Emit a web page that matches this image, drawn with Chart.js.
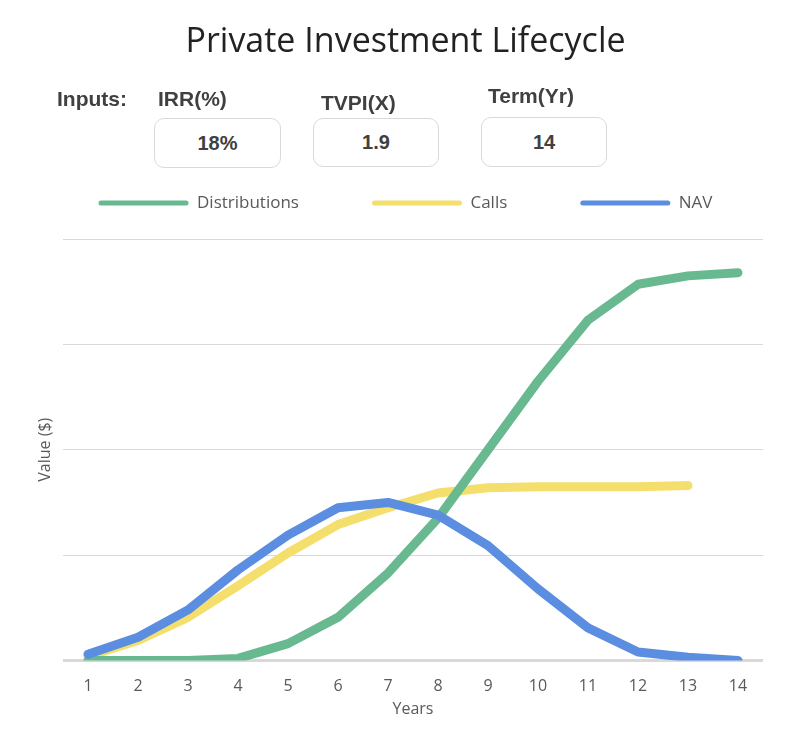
<!DOCTYPE html>
<html>
<head>
<meta charset="utf-8">
<title>Private Investment Lifecycle</title>
<script src="https://cdn.jsdelivr.net/npm/chart.js@4.4.1/dist/chart.umd.min.js"></script>
<style>
  html, body { margin: 0; padding: 0; background: #fff; }
  #wrap { position: relative; width: 811px; height: 740px; }
  #lifecycle { position: absolute; left: 0; top: 0; }
  .lbl {
    position: absolute; height: 24px; line-height: 24px; white-space: nowrap;
    font-family: 'Liberation Sans', Arial, sans-serif; font-weight: bold;
    font-size: 21px; color: #404040;
  }
  .box {
    position: absolute; box-sizing: border-box; border: 1px solid #d9d9d9;
    border-radius: 10px; background: #fff; display: flex;
    align-items: center; justify-content: center;
    font-family: 'Liberation Sans', Arial, sans-serif; font-weight: bold;
    font-size: 20px; color: #404040;
  }
</style>
</head>
<body>
<div id="wrap">
  <canvas id="lifecycle" width="811" height="740"></canvas>
  <div class="lbl" style="left:57px; top:87px;">Inputs:</div>
  <div class="lbl" style="left:158px; top:87px;">IRR(%)</div>
  <div class="lbl" style="left:321px; top:91px;">TVPI(X)</div>
  <div class="lbl" style="left:488px; top:84px;">Term(Yr)</div>
  <div class="box" style="left:154px; top:118px; width:127px; height:50px;">18%</div>
  <div class="box" style="left:313px; top:118px; width:126px; height:49px;">1.9</div>
  <div class="box" style="left:481px; top:117px; width:126px; height:50px;">14</div>
</div>
<script>
  // values (y unit = one gridline)
  const years = ['1', '2', '3', '4', '5', '6', '7', '8', '9', '10', '11', '12', '13', '14'];
  const distributions = [0, 0, 0, 0.02, 0.16, 0.41, 0.83, 1.35, 2.0, 2.65, 3.23, 3.57, 3.65, 3.68];
  const calls = [0.04, 0.19, 0.41, 0.71, 1.02, 1.29, 1.45, 1.59, 1.64, 1.65, 1.65, 1.65, 1.66, null];
  const nav = [0.06, 0.22, 0.48, 0.86, 1.19, 1.45, 1.50, 1.38, 1.09, 0.68, 0.31, 0.08, 0.03, 0.0];

  const GREEN = '#68b990';
  const YELLOW = '#f4df6c';
  const BLUE = '#5b8de0';

  Chart.defaults.font.family = "'Open Sans', sans-serif";

  // keep the legend on one row, fixed height, same centre
  const legendRow = {
    id: 'legendRow',
    beforeInit(chart) {
      const origFit = chart.legend.fit;
      chart.legend.fit = function () {
        const mw = this.maxWidth;
        this.maxWidth = 2000;
        origFit.call(this);
        this.maxWidth = mw;
        this.width = mw;
        this.height = 117.5;
      };
    },
    afterLayout(chart) {
      // widen both sides equally so nothing wraps
      chart.legend.left -= 300;
      chart.legend.right += 300;
    }
  };

  function series(label, data, color, order) {
    return {
      label,
      data,
      borderColor: color,
      backgroundColor: color,
      borderWidth: 9,
      borderCapStyle: 'round',
      borderJoinStyle: 'round',
      pointRadius: 0,
      pointHoverRadius: 0,
      tension: 0,
      order
    };
  }

  new Chart(document.getElementById('lifecycle'), {
    type: 'line',
    data: {
      labels: years,
      datasets: [
        series('Distributions', distributions, GREEN, 1),
        series('Calls', calls, YELLOW, 2),
        series('NAV', nav, BLUE, 0)
      ]
    },
    options: {
      responsive: false,
      animation: false,
      layout: { padding: { left: 48, right: 48, top: 0, bottom: 17.4 } },
      plugins: {
        title: {
          display: true,
          text: 'Private Investment Lifecycle',
          color: '#222222',
          font: { size: 34, weight: 'normal' },
          padding: { top: 21.6, bottom: 59.1 }
        },
        legend: {
          display: true,
          labels: {
            boxWidth: 90,
            boxHeight: 5,
            useBorderRadius: true,
            borderRadius: 2.5,
            padding: 73,
            color: '#595959',
            font: { size: 17 },
            sort: (a, b) => a.datasetIndex - b.datasetIndex,
            generateLabels(chart) {
              const items = Chart.defaults.plugins.legend.labels.generateLabels(chart);
              items.forEach(it => { it.lineWidth = 0; });
              return items;
            }
          }
        },
        tooltip: { enabled: false }
      },
      scales: {
        x: {
          offset: true,
          grid: { display: false, drawTicks: false },
          border: { display: false },
          ticks: { color: '#595959', font: { size: 16 }, padding: 16, autoSkip: false, maxRotation: 0 },
          title: { display: true, text: 'Years', color: '#595959', font: { size: 16 }, padding: { top: -12.3, bottom: 4 } }
        },
        y: {
          min: 0,
          max: 4,
          ticks: { display: false, stepSize: 1 },
          border: { display: false },
          grid: {
            color: '#d9d9d9',
            drawTicks: false,
            lineWidth: ctx => (ctx.tick && ctx.tick.value === 0 ? 3 : 1)
          },
          title: { display: true, text: 'Value ($)', color: '#595959', font: { size: 16 }, padding: { top: -12.6, bottom: 8.4 } }
        }
      }
    },
    plugins: [legendRow]
  });
</script>
</body>
</html>
